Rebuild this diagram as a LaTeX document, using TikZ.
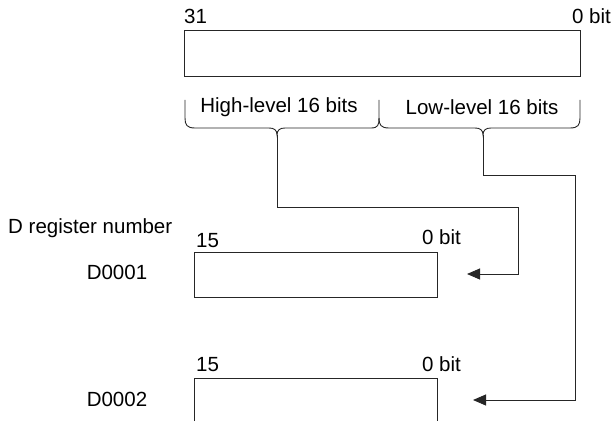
\documentclass[tikz,border=0pt]{standalone}
\usepackage{fontspec}
\setmainfont{Liberation Sans}
\usetikzlibrary{arrows.meta}
\begin{document}
\begin{tikzpicture}[x=1pt,y=1pt,
  lbl/.style={font=\fontsize{20.5}{20.5}\selectfont, inner sep=0pt},
  ln/.style={line width=0.9pt, draw=black!85},
  conn/.style={ln, -{Triangle[length=13pt,width=11pt]}},
  box/.style={ln}]
\useasboundingbox (0,0) rectangle (612,421);
% top 32-bit box
\draw[box] (184,345) rectangle (580,391);
\node[lbl, anchor=base west] (t31) at (184,397) {31};
\node[lbl, anchor=base east] (t0) at (611,397) {0 bit};
% braces
\draw[ln] (185,321) -- (185,303) .. controls (185,296) and (187,293) .. (195,293)
  -- (269,293) .. controls (274,293) and (277,291) .. (277,286)
  .. controls (277,291) and (280,293) .. (285,293)
  -- (371,293) .. controls (378,293) and (379,296) .. (379,303) -- (379,321);
\draw[ln] (379,303) .. controls (379,296) and (381,293) .. (389,293)
  -- (475,293) .. controls (480,293) and (483,291) .. (483,286)
  .. controls (483,291) and (486,293) .. (491,293)
  -- (570,293) .. controls (578,293) and (580,296) .. (580,303) -- (580,321);
\coordinate (hi) at (277,286);
\coordinate (lo) at (483,286);
\node[lbl] (hitxt) at (279,314) {High-level 16 bits};
\node[lbl] (lotxt) at (482,314) {Low-level 16 bits};
% D registers
\node[lbl, anchor=west] (dreg) at (8,193) {D register number};
\draw[box] (194,169) rectangle (437,124);
\node[lbl, anchor=base west] (b15a) at (196,174) {15};
\node[lbl, anchor=base east] (b0a) at (461,177) {0 bit};
\node[lbl] (d1) at (117,149) {D0001};
\draw[box] (194,0) -- (194,43) -- (437,43) -- (437,0);
\node[lbl, anchor=base west] (b15b) at (196,50) {15};
\node[lbl, anchor=base east] (b0b) at (461,50) {0 bit};
\node[lbl] (d2) at (117,22) {D0002};
\coordinate (a1) at (467,147);
\coordinate (a2) at (473,21);
% connectors
\draw[conn] (hi) -- (277,214) -- (518,214) -- (518,147) -- (a1);
\draw[conn] (lo) -- (483,246) -- (575,246) -- (575,21) -- (a2);
\end{tikzpicture}
\end{document}
